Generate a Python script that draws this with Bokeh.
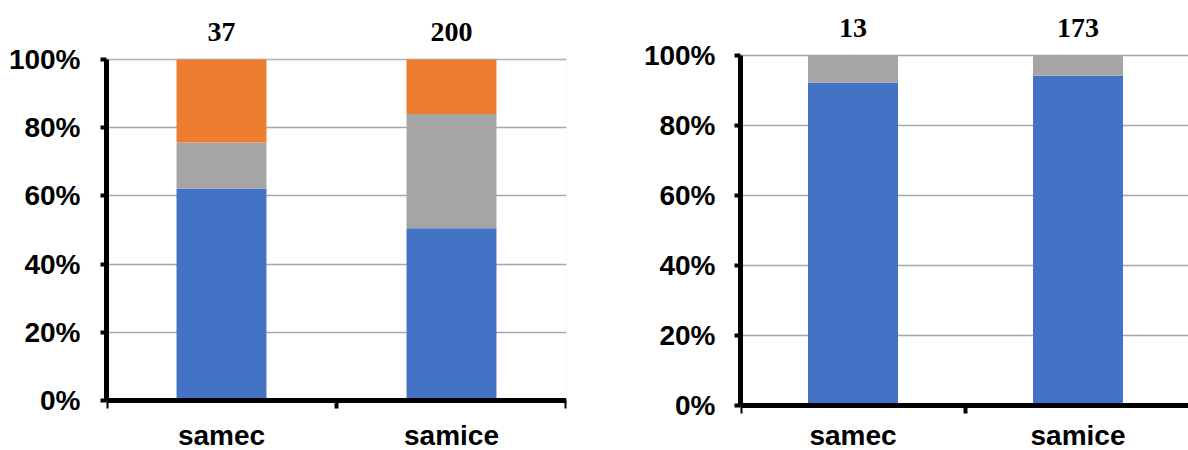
from bokeh.plotting import figure
from bokeh.models import (ColumnDataSource, FixedTicker, NumeralTickFormatter,
                          Range1d, LinearAxis, BoxAnnotation)
from bokeh.layouts import row
from bokeh.embed import file_html
from bokeh.resources import INLINE

# ---- data ----
categories = ["samec", "samice"]

left_totals = [37, 200]
left_blue = [23, 101]
left_gray = [5, 67]
left_orange = [9, 32]

right_totals = [13, 173]
right_blue = [12, 163]
right_gray = [1, 10]

y_ticks = [0, 0.2, 0.4, 0.6, 0.8, 1.0]

BLUE = "#4472C4"
GRAY = "#A5A5A5"
ORANGE = "#ED7D31"
SANS = "Liberation Sans"
SERIF = "Liberation Serif"


def make_chart(width, height, border_left, border_right, y0_px, y1_px,
               px_per_cat, bar_width, totals, series, colors,
               cat_standoff, count_standoff, y_standoff, box_color):
    frame_w = width - border_left - border_right
    ppu = y0_px - y1_px                     # pixels per 100 %
    y_start = -(height - y0_px) / ppu
    y_end = 1 + y1_px / ppu
    p = figure(width=width, height=height, output_backend="svg",
               toolbar_location=None,
               x_range=Range1d(0, frame_w / px_per_cat),
               y_range=Range1d(y_start, y_end),
               min_border_left=border_left, min_border_right=border_right,
               min_border_top=0, min_border_bottom=0,
               background_fill_color="white", border_fill_color="white")
    p.outline_line_color = None

    data = {"x": [i + 0.5 for i in range(len(categories))]}
    names = []
    for k, counts in enumerate(series):
        name = "s%d" % k
        data[name] = [c / t for c, t in zip(counts, totals)]
        names.append(name)
    src = ColumnDataSource(data)

    if box_color is not None:
        p.add_layout(BoxAnnotation(left=0, right=len(categories), bottom=0,
                                   top=1, fill_color=None,
                                   line_color=box_color, line_width=1,
                                   level="underlay"))

    p.vbar_stack(names, x="x", width=bar_width, fill_color=colors,
                 line_color=None, source=src)

    # grid
    p.xgrid.visible = False
    p.ygrid.ticker = FixedTicker(ticks=y_ticks[1:])
    p.ygrid.grid_line_color = "#a6a6a6"
    p.ygrid.grid_line_width = 1.5

    # y axis
    ya = p.yaxis[0]
    ya.bounds = (0, 1)
    ya.ticker = FixedTicker(ticks=y_ticks)
    ya.formatter = NumeralTickFormatter(format="0%")
    ya.axis_line_width = 5
    ya.axis_line_color = "black"
    ya.major_tick_out = 6
    ya.major_tick_in = 0
    ya.major_tick_line_width = 4
    ya.minor_tick_out = 0
    ya.minor_tick_in = 0
    ya.major_label_standoff = y_standoff
    ya.major_label_text_font = SANS
    ya.major_label_text_font_style = "bold"
    ya.major_label_text_font_size = "28px"
    ya.major_label_text_color = "black"

    # x axis at 0 %: category names, tick marks at category boundaries
    centers = [i + 0.5 for i in range(len(categories))]
    xa = p.xaxis[0]
    xa.fixed_location = 0
    xa.ticker = FixedTicker(ticks=centers,
                            minor_ticks=list(range(len(categories) + 1)))
    xa.major_label_overrides = {c: n for c, n in zip(centers, categories)}
    xa.axis_line_width = 5
    xa.axis_line_color = "black"
    xa.major_tick_out = 0
    xa.major_tick_in = 0
    xa.minor_tick_out = 8
    xa.minor_tick_in = 0
    xa.minor_tick_line_width = 4
    xa.minor_tick_line_color = "black"
    xa.major_label_standoff = cat_standoff
    xa.major_label_text_font = SANS
    xa.major_label_text_font_style = "bold"
    xa.major_label_text_font_size = "28px"
    xa.major_label_text_color = "black"

    # axis at 100 %: totals above the bars
    ta = LinearAxis(fixed_location=1,
                    ticker=FixedTicker(ticks=centers),
                    major_label_overrides={c: str(t) for c, t in
                                           zip(centers, totals)},
                    axis_line_color=None, major_tick_line_color=None,
                    minor_tick_line_color=None,
                    major_label_standoff=count_standoff,
                    major_label_text_font=SERIF,
                    major_label_text_font_style="bold",
                    major_label_text_font_size="28px",
                    major_label_text_color="black")
    p.add_layout(ta, "above")
    return p


p1 = make_chart(600, 450, 106, 34, 400, 59, 230, 0.391, left_totals,
                [left_blue, left_gray, left_orange], [BLUE, GRAY, ORANGE],
                11, 13, 20, "#d0d0d0")
p2 = make_chart(588, 450, 140, 0, 405, 55, 225, 0.4, right_totals,
                [right_blue, right_gray], [BLUE, GRAY],
                6, 13, 19, None)

layout = row(p1, p2)
open("out.html", "w").write(file_html(layout, INLINE))
